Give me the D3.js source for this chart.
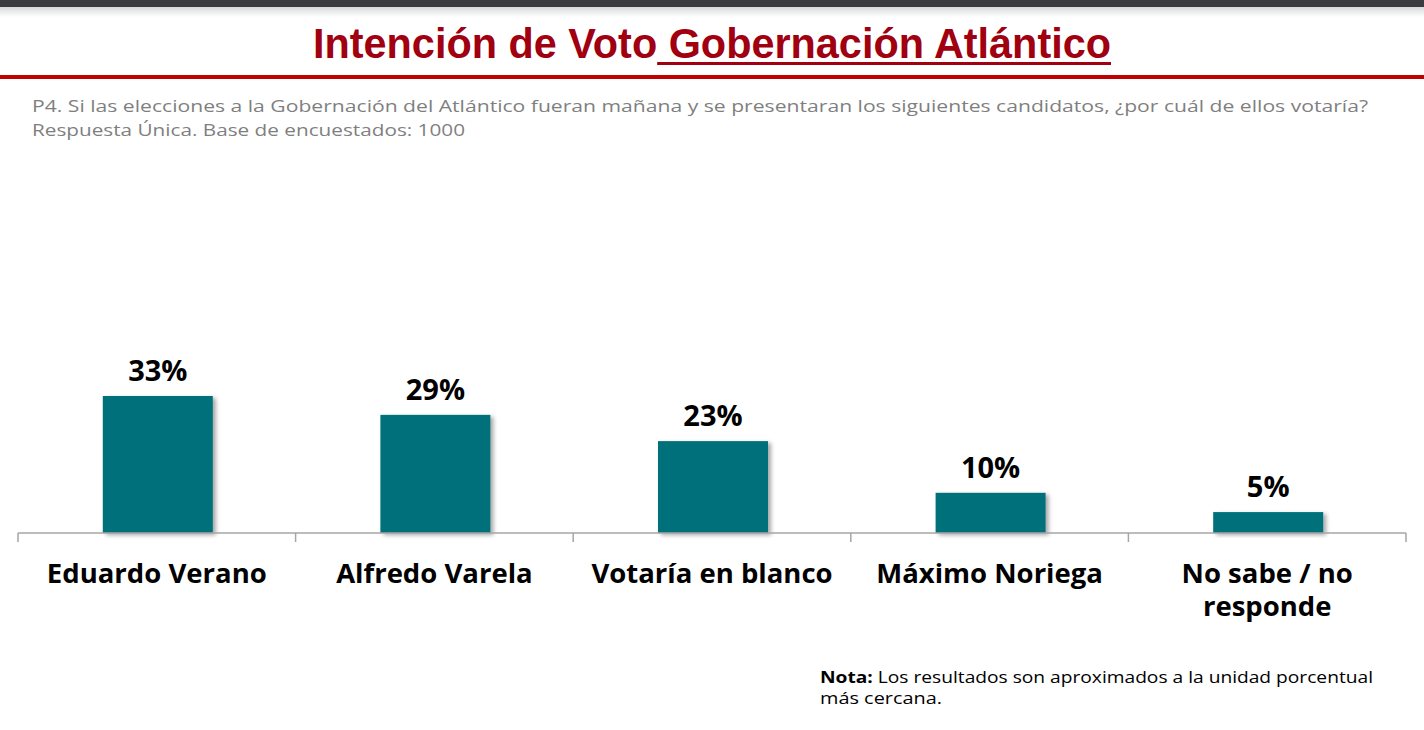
<!DOCTYPE html>
<html><head><meta charset="utf-8">
<script src="https://cdn.jsdelivr.net/npm/d3@7"></script>
<style>
html,body{margin:0;padding:0;background:#fff;}
svg{display:block;}
</style></head>
<body>
<script>
const categories = ["Eduardo Verano", "Alfredo Varela", "Votaría en blanco", "Máximo Noriega", "No sabe / no\nresponde"];
const values = [33.4, 28.8, 22.4, 9.8, 5.1];
const valueLabels = ["33%", "29%", "23%", "10%", "5%"];
const titlePlain = "Intención de Voto";
const titleUnderlined = " Gobernación Atlántico";
const subtitleLines = ["P4. Si las elecciones a la Gobernación del Atlántico fueran mañana y se presentaran los siguientes candidatos, ¿por cuál de ellos votaría?",
                       "Respuesta Única. Base de encuestados: 1000"];
const noteBold = "Nota:";
const noteLines = [" Los resultados son aproximados a la unidad porcentual", "más cercana."];

const W = 1424, H = 730;
const FONT = "'Open Sans', 'DejaVu Sans', sans-serif";
const TFONT = "'Liberation Sans', Arial, sans-serif";
const svg = d3.select("body").append("svg").attr("width", W).attr("height", H);

const defs = svg.append("defs");
const grad = defs.append("linearGradient").attr("id","topfade").attr("x1",0).attr("x2",0).attr("y1",0).attr("y2",1);
grad.append("stop").attr("offset","0%").attr("stop-color","#d8d9da");
grad.append("stop").attr("offset","100%").attr("stop-color","#ffffff");
const f = defs.append("filter").attr("id","shadow").attr("x","-10%").attr("y","-10%").attr("width","130%").attr("height","130%");
f.append("feDropShadow").attr("dx",3).attr("dy",2).attr("stdDeviation",2).attr("flood-color","#000").attr("flood-opacity",0.35);

// top dark bar
svg.append("rect").attr("x",0).attr("y",0).attr("width",W).attr("height",7).attr("fill","#3a3c3f");
svg.append("rect").attr("x",0).attr("y",7).attr("width",W).attr("height",10).attr("fill","url(#topfade)");

// title
const TS = 42;
const title = svg.append("text").attr("x",313).attr("y",58)
  .attr("font-family", TFONT).attr("font-weight","bold")
  .attr("font-size",TS).attr("fill","#a00010");
title.append("tspan").text(titlePlain);
title.append("tspan").text(titleUnderlined);
const tw = title.node().getComputedTextLength();
title.attr("textLength", 798).attr("lengthAdjust","spacingAndGlyphs");
const scaleT = 798 / tw;
const plainW = (function(){ const t = svg.append("text").attr("font-family",TFONT).attr("font-weight","bold").attr("font-size",TS).text(titlePlain); const w = t.node().getComputedTextLength(); t.remove(); return w;})();
const ux0 = 313 + plainW*scaleT;
svg.append("rect").attr("x",ux0).attr("y",62).attr("width",1111-ux0).attr("height",3).attr("fill","#a00010");

// red rule
svg.append("rect").attr("x",0).attr("y",75).attr("width",W).attr("height",4).attr("fill","#c00000");

// subtitle
const sub = svg.append("g").attr("font-family",FONT).attr("font-size",17).attr("fill","#7f7f7f");
subtitleLines.forEach((s,i)=>{
  const t = sub.append("text").attr("x",32).attr("y",112 + i*24).text(s);
  if(i===0) t.attr("textLength",1336).attr("lengthAdjust","spacingAndGlyphs");
  else t.attr("textLength",433).attr("lengthAdjust","spacingAndGlyphs");
});

// chart
const x0 = 18, x1 = 1406, yBase = 533;
const x = d3.scaleBand().domain(d3.range(categories.length)).range([x0, x1]).paddingInner(0).paddingOuter(0);
const y = d3.scaleLinear().domain([0, 33.4]).range([yBase, 396]);
const barW = 110;

const g = svg.append("g");
g.selectAll("rect.bar").data(values).join("rect").attr("class","bar")
  .attr("x",(d,i)=>x(i)+x.bandwidth()/2-barW/2+1)
  .attr("y",d=>y(d)).attr("width",barW).attr("height",d=>yBase-y(d))
  .attr("fill","#02707a").attr("filter","url(#shadow)");

// axis
const axis = d3.axisBottom(x).tickSize(0).tickFormat("");
const ag = svg.append("g").attr("transform",`translate(0,${yBase})`).call(axis);
ag.select(".domain").attr("stroke","#a6a6a6").attr("stroke-width",1.5).attr("d",`M${x0},0H${x1}`);
const bounds = d3.range(categories.length+1).map(i=> i<categories.length ? x(i) : x1);
ag.selectAll("line.bound").data(bounds).join("line").attr("class","bound")
  .attr("x1",d=>d).attr("x2",d=>d).attr("y1",0).attr("y2",9).attr("stroke","#a6a6a6").attr("stroke-width",1.5);

// value labels
g.selectAll("text.val").data(values).join("text").attr("class","val")
  .attr("x",(d,i)=>x(i)+x.bandwidth()/2+1).attr("y",d=>y(d)-15)
  .attr("text-anchor","middle").attr("font-family",FONT).attr("font-weight","bold")
  .attr("font-size",29).attr("fill","#000").text((d,i)=>valueLabels[i]);

// category labels
categories.forEach((c,i)=>{
  const lines = c.split("\n");
  const t = svg.append("text").attr("text-anchor","middle").attr("font-family",FONT).attr("font-weight","bold")
    .attr("font-size",27.5).attr("fill","#000");
  lines.forEach((l,j)=>{
    t.append("tspan").attr("x",x(i)+x.bandwidth()/2).attr("y",583 + j*33).text(l);
  });
});

// note
const note = svg.append("g").attr("font-family",FONT).attr("font-size",16.5).attr("fill","#000");
const n1 = note.append("text").attr("x",820).attr("y",683).attr("textLength",553).attr("lengthAdjust","spacingAndGlyphs");
n1.append("tspan").attr("font-weight","bold").text(noteBold);
n1.append("tspan").text(noteLines[0]);
note.append("text").attr("x",820).attr("y",704).attr("textLength",122).attr("lengthAdjust","spacingAndGlyphs").text(noteLines[1]);
</script>
</body></html>
